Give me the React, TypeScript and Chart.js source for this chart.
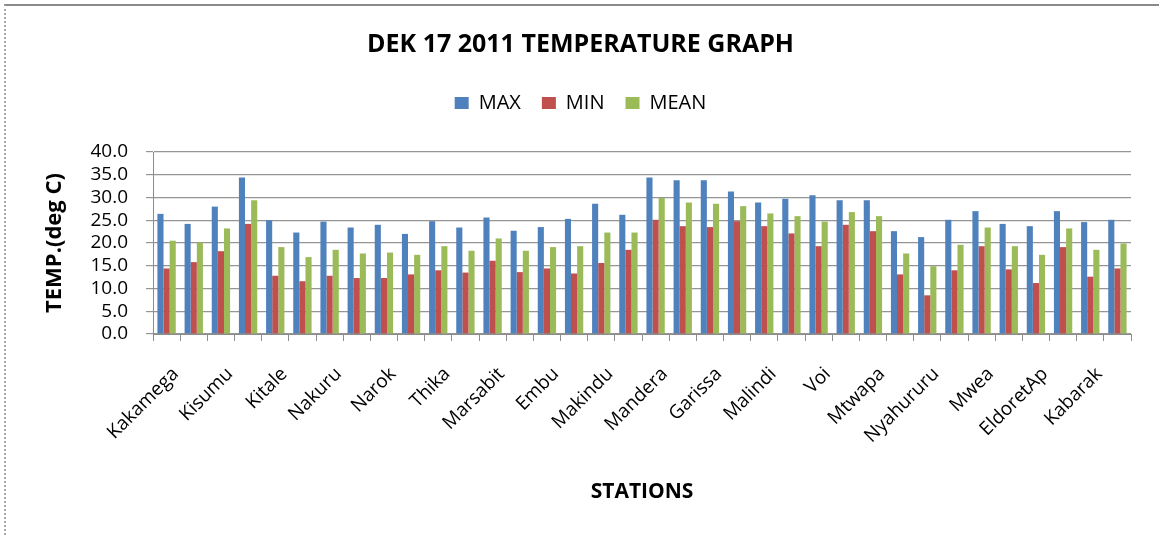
import React, { useEffect, useRef } from 'react';
import { Chart, registerables } from 'chart.js';

Chart.register(...registerables);

const stations = [
  'Kakamega', 'Kericho', 'Kisumu', 'Kisii', 'Kitale', 'Eldoret', 'Nakuru', 'Nyeri',
  'Narok', 'Meru', 'Thika', 'Dagoretti', 'Marsabit', 'Moyale', 'Embu', 'Machakos',
  'Makindu', 'Wajir', 'Mandera', 'Lodwar', 'Garissa', 'Lamu', 'Malindi', 'Mombasa',
  'Voi', 'Msabaha', 'Mtwapa', 'Kabete', 'Nyahururu', 'Laikipia', 'Mwea', 'Kitui',
  'EldoretAp', 'Naivasha', 'Kabarak', 'Kerugoya',
];

const maxTemps = [
  26.4, 24.2, 28.0, 34.4, 25.0, 22.3, 24.7, 23.4, 24.0, 22.0, 24.8, 23.4,
  25.6, 22.7, 23.5, 25.3, 28.6, 26.2, 34.4, 33.8, 33.8, 31.3, 28.9, 29.7,
  30.5, 29.4, 29.4, 22.6, 21.3, 25.1, 27.0, 24.2, 23.7, 27.0, 24.6, 25.1,
];

const minTemps = [
  14.4, 15.8, 18.2, 24.2, 12.8, 11.6, 12.8, 12.3, 12.3, 13.1, 14.0, 13.5,
  16.1, 13.6, 14.4, 13.3, 15.6, 18.5, 25.1, 23.7, 23.5, 24.8, 23.7, 22.1,
  19.3, 24.0, 22.6, 13.1, 8.5, 14.0, 19.3, 14.2, 11.2, 19.1, 12.6, 14.4,
];

const meanTemps = [
  20.5, 20.1, 23.2, 29.4, 19.1, 16.9, 18.5, 17.7, 17.9, 17.4, 19.3, 18.3,
  21.0, 18.3, 19.1, 19.3, 22.3, 22.3, 29.9, 28.9, 28.6, 28.1, 26.5, 25.9,
  24.7, 26.8, 25.9, 17.7, 14.9, 19.6, 23.4, 19.3, 17.4, 23.2, 18.5, 19.9,
];

const seriesNames = ['MAX', 'MIN', 'MEAN'];
const seriesColors = ['#4F81BD', '#C0504D', '#9BBB59'];

const chartTitle = 'DEK 17 2011 TEMPERATURE GRAPH';
const yAxisTitle = 'TEMP.(deg C)';
const xAxisTitle = 'STATIONS';

const FONT = "'Open Sans', sans-serif";

export default function App() {
  const canvasRef = useRef<HTMLCanvasElement | null>(null);

  useEffect(() => {
    document.body.style.margin = '0';
    const canvas = canvasRef.current;
    if (!canvas) return;
    const seriesData = [maxTemps, minTemps, meanTemps];
    const chart = new Chart(canvas, {
      type: 'bar',
      data: {
        labels: stations,
        datasets: seriesNames.map((name, i) => ({
          label: name,
          data: seriesData[i],
          backgroundColor: seriesColors[i],
          borderWidth: 0,
          categoryPercentage: 0.675,
          barPercentage: 1.0,
        })),
      },
      options: {
        animation: false,
        responsive: false,
        maintainAspectRatio: false,
        layout: { padding: { top: 0, left: 30, right: 28, bottom: 20 } },
        plugins: {
          title: {
            display: true,
            text: chartTitle,
            color: '#000',
            font: { family: FONT, size: 25, weight: 'bold', lineHeight: 1.2 },
            padding: { top: 30, bottom: 12 },
          },
          subtitle: {
            display: true,
            text: ' ',
            weight: 500,
            font: { family: FONT, size: 10, lineHeight: 1.2 },
            padding: { top: 0, bottom: 17 },
          } as any,
          legend: {
            display: true,
            position: 'top',
            labels: {
              color: '#000',
              font: { family: FONT, size: 20 },
              boxWidth: 14,
              boxHeight: 12,
              padding: 21,
            },
          },
          tooltip: { enabled: false },
        },
        scales: {
          x: {
            grid: {
              display: true,
              drawOnChartArea: false,
              drawTicks: true,
              tickLength: 7,
              color: '#8c8c8c',
              offset: true,
            },
            border: { display: true, color: '#8c8c8c', width: 1 },
            ticks: {
              autoSkip: false,
              maxRotation: 45,
              minRotation: 45,
              padding: 22,
              labelOffset: 9,
              color: '#000',
              font: { family: FONT, size: 19 },
              callback: (_v: any, i: number) => (i % 2 === 0 ? stations[i] : ''),
            },
            title: {
              display: true,
              text: xAxisTitle,
              color: '#000',
              font: { family: FONT, size: 21, weight: 'bold', lineHeight: 1.2 },
              padding: { top: 0, bottom: 10 },
            },
            afterFit: (scale: any) => {
              scale.height = 181;
            },
          },
          y: {
            min: 0,
            max: 40,
            grid: {
              color: '#959595',
              lineWidth: 1.2,
              drawTicks: true,
              tickLength: 7,
            },
            border: { display: true, color: '#8c8c8c', width: 1 },
            ticks: {
              stepSize: 5,
              autoSkip: false,
              padding: 18,
              color: '#000',
              font: { family: FONT, size: 19 },
              callback: (v: any) => Number(v).toFixed(1),
            },
            title: {
              display: true,
              text: yAxisTitle,
              color: '#000',
              font: { family: FONT, size: 22, weight: 'bold', lineHeight: 1.2 },
              padding: { top: 12, bottom: 0 },
            },
            afterFit: (scale: any) => {
              scale.width = 123;
            },
          },
        },
      },
    });
    return () => chart.destroy();
  }, []);

  return (
    <div style={{ position: 'relative', width: 1159, height: 535, background: '#fff' }}>
      <canvas ref={canvasRef} width={1159} height={535} style={{ display: 'block' }} />
      <div
        style={{
          position: 'absolute',
          left: 4,
          top: 4,
          right: 0,
          bottom: 0,
          borderTop: '2px solid #8a8a8a',
          borderLeft: '2px dotted #a8a8a8',
          pointerEvents: 'none',
        }}
      />
    </div>
  );
}
